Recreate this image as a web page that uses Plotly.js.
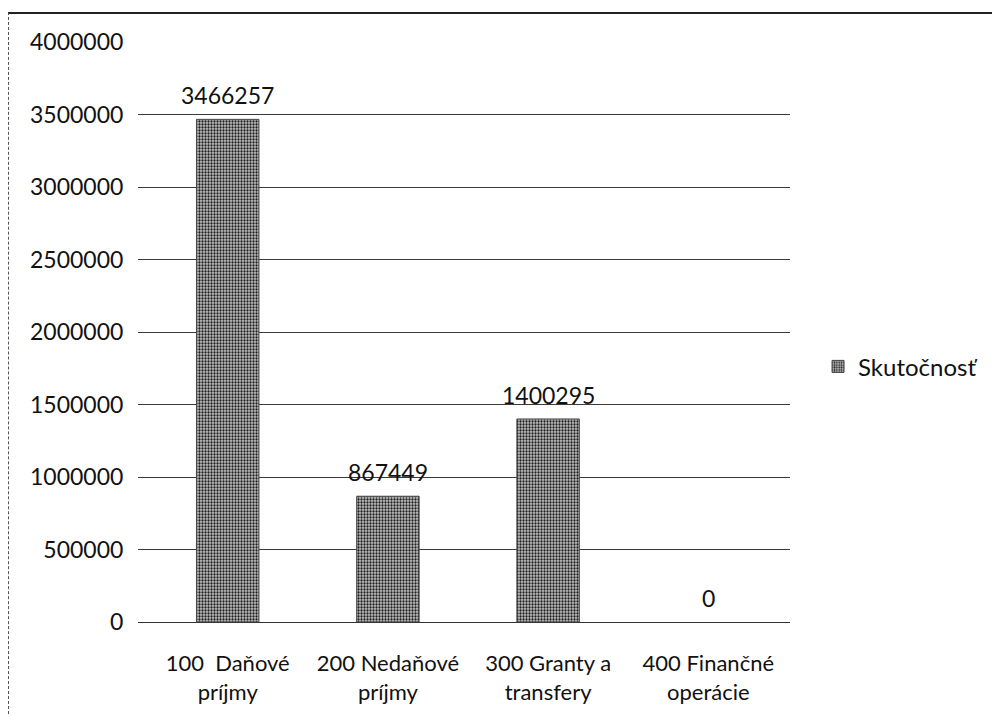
<!DOCTYPE html>
<html>
<head>
<meta charset="utf-8">
<script src="https://cdn.plot.ly/plotly-3.0.1.min.js"></script>
<style>
  html, body { margin: 0; padding: 0; background: #fff; }
  #wrap { position: relative; width: 992px; height: 715px; overflow: hidden; }
  #chart { position: absolute; left: 0; top: 0; width: 992px; height: 715px; }
  #frame { position: absolute; left: 8px; top: 12px; width: 990px; height: 710px;
           border-top: 2px solid #222; border-left: 1px dashed #555; pointer-events: none; }
</style>
</head>
<body>
<div id="wrap">
  <div id="chart"></div>
  <div id="frame"></div>
</div>
<script>
const categories = [
  "100\u00a0 Daňové<br>príjmy",
  "200 Nedaňové<br>príjmy",
  "300 Granty a<br>transfery",
  "400 Finančné<br>operácie"
];
const values = [3466257, 867449, 1400295, 0];
const seriesName = "Skutočnosť";
const yTicks = [0, 500000, 1000000, 1500000, 2000000, 2500000, 3000000, 3500000, 4000000];

const FONT = "Lato, 'Open Sans', sans-serif";

const trace = {
  type: "bar",
  x: categories,
  y: values,
  name: seriesName,
  showlegend: true,
  width: 0.39,
  marker: {
    color: "#a0a0a0",
    line: { color: "#444", width: values.map(v => (v === 0 ? 0 : 1)) },
    pattern: { shape: ".", fgcolor: "#1e1e1e", bgcolor: "#c2c2c2", size: 3, solidity: 0.45 }
  },
  hoverinfo: "none"
};

const annotations = categories.map((c, i) => ({
  x: c, y: values[i], xref: "x", yref: "y",
  text: String(values[i]),
  showarrow: false, yanchor: "bottom", yshift: 8,
  font: { family: FONT, size: 23, color: "#111" }
}));

const layout = {
  width: 992, height: 715,
  margin: { l: 138, r: 202, t: 42, b: 93, pad: 0, autoexpand: false },
  paper_bgcolor: "#fff", plot_bgcolor: "#fff",
  font: { family: FONT, size: 23, color: "#111" },
  xaxis: {
    type: "category",
    range: [-0.56, 3.51],
    showgrid: false, zeroline: false,
    showline: false,
    ticks: "outside", ticklen: 22, tickcolor: "rgba(0,0,0,0)",
    tickfont: { family: FONT, size: 22, color: "#111" }
  },
  yaxis: {
    range: [0, 4000000],
    tickvals: yTicks,
    ticktext: yTicks.map(String),
    showgrid: true, gridcolor: "#3a3a3a", gridwidth: 1,
    zeroline: true, zerolinecolor: "#333", zerolinewidth: 1,
    showline: false,
    ticks: "outside", ticklen: 9, tickcolor: "rgba(0,0,0,0)",
    tickfont: { family: FONT, size: 23, color: "#111" }
  },
  showlegend: true,
  legend: {
    x: 1.043, xanchor: "left", y: 0.44, yanchor: "middle",
    font: { family: FONT, size: 24, color: "#111" },
    itemwidth: 30,
    bgcolor: "rgba(0,0,0,0)"
  },
  annotations: annotations
};

Plotly.newPlot("chart", [trace], layout, { staticPlot: true, displayModeBar: false });
</script>
</body>
</html>
